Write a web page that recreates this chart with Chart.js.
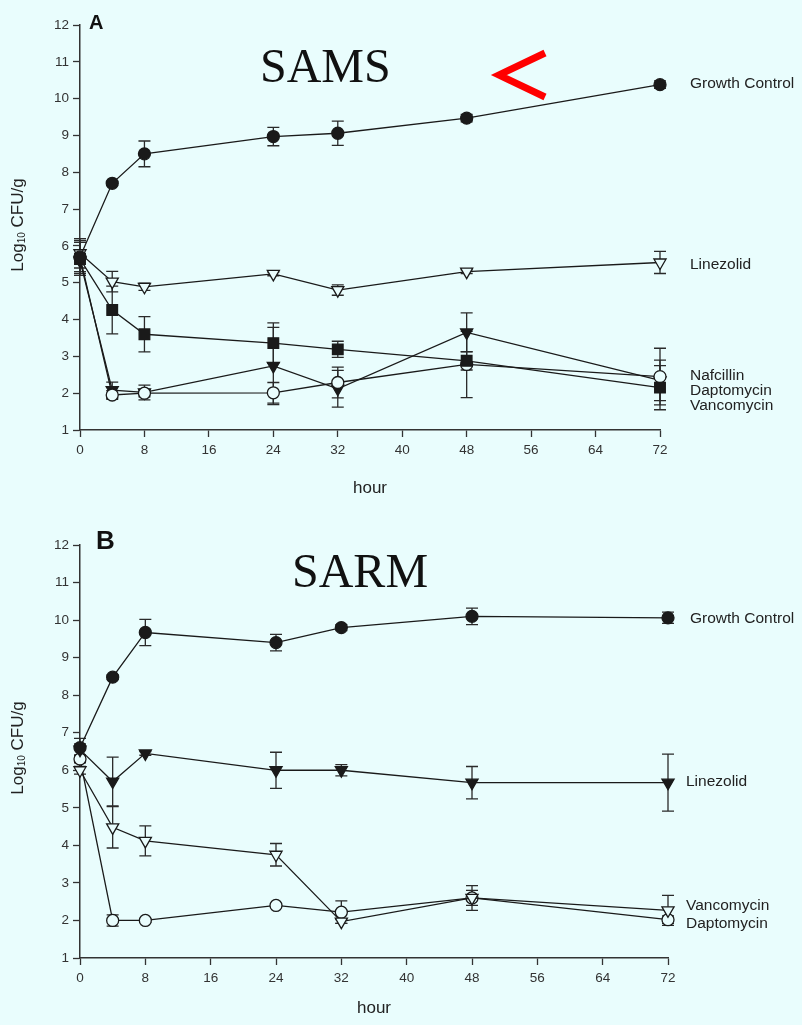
<!DOCTYPE html>
<html>
<head>
<meta charset="utf-8">
<title>SAMS / SARM time-kill</title>
<script src="https://cdn.jsdelivr.net/npm/chart.js"></script>
<style>
    body { margin: 0; background: #e9fdfd; width: 802px; height: 1025px; position: relative; overflow: hidden;
           font-family: "Liberation Sans", Arial, sans-serif; color: #222; }
    canvas { position: absolute; left: 0; }
    #chartA { top: 0; }
    #chartB { top: 515px; }
    .letter { position: absolute; font-weight: bold; line-height: 1; color: #111; }
    .strain { position: absolute; font-family: "Liberation Serif", "Times New Roman", serif; font-size: 48px; line-height: 1; color: #111; }
    .ytitle { position: absolute; font-size: 17px; line-height: 1; white-space: nowrap; color: #222;
              transform: translate(-50%, -50%) rotate(-90deg); }
    .ytitle sub { font-size: 10px; vertical-align: -2px; }
    svg { position: absolute; left: 0; top: 0; }
</style>
</head>
<body>
<canvas id="chartA" width="802" height="505"></canvas>
<canvas id="chartB" width="802" height="510"></canvas>

<div class="letter" style="left:89px; top:12px; font-size:20px;">A</div>
<div class="letter" style="left:96px; top:527px; font-size:26px;">B</div>
<div class="strain" style="left:260px; top:42px;">SAMS</div>
<div class="strain" style="left:292px; top:547px;">SARM</div>
<div class="ytitle" style="left:18px; top:225px;">Log<sub>10</sub> CFU/g</div>
<div class="ytitle" style="left:18px; top:748px;">Log<sub>10</sub> CFU/g</div>
<svg width="802" height="1025">
    <polyline points="545,53 499,75 545,97" fill="none" stroke="#ff0000" stroke-width="7"/>
</svg>

<script>
// sampling times (hours)
const hours = [0, 4, 8, 24, 32, 48, 72];

// Panel A - SAMS
const samsGrowth = [5.7, 7.7, 8.5, 8.97, 9.06, 9.47, 10.38];
const samsGrowthErr = [0.45, 0.05, 0.35, 0.25, 0.33, 0.1, 0.1];
const samsLinezolid = [5.8, 5.03, 4.89, 5.24, 4.8, 5.3, 5.55];
const samsLinezolidErr = [0.4, 0.28, 0.1, 0.05, 0.14, 0.05, 0.3];
const samsNafcillin = [5.65, 4.26, 3.6, 3.36, 3.19, 2.88, 2.15];
const samsNafcillinErr = [0.45, 0.65, 0.48, 0.55, 0.22, 0.25, 0.6];
const samsDaptomycin = [5.7, 1.95, 2.0, 2.01, 2.29, 2.78, 2.45];
const samsDaptomycinErr = [0.2, 0.12, 0.1, 0.28, 0.42, 0.9, 0.77];
const samsVancomycin = [5.6, 2.08, 2.02, 2.74, 2.12, 3.65, 2.35];
const samsVancomycinErr = [0.3, 0.22, 0.2, 1.05, 0.5, 0.53, 0.55];
const samsNames = ['Growth Control', 'Linezolid', 'Nafcillin', 'Daptomycin', 'Vancomycin'];
const samsNameAt = [10.4, 5.5, 2.48, 2.07, 1.66];

// Panel B - SARM
const sarmGrowth = [6.6, 8.48, 9.67, 9.4, 9.8, 10.1, 10.06];
const sarmGrowthErr = [0.25, 0.06, 0.35, 0.22, 0.08, 0.22, 0.15];
const sarmLinezolid = [6.55, 5.7, 6.45, 6.0, 6.0, 5.67, 5.67];
const sarmLinezolidErr = [0.15, 0.65, 0.05, 0.48, 0.15, 0.43, 0.76];
const sarmVancomycin = [6.0, 4.48, 4.12, 3.75, 1.97, 2.6, 2.27];
const sarmVancomycinErr = [0.1, 0.55, 0.4, 0.3, 0.05, 0.33, 0.4];
const sarmDaptomycin = [6.3, 2.0, 2.0, 2.4, 2.22, 2.6, 2.02];
const sarmDaptomycinErr = [0.1, 0.15, 0.05, 0.05, 0.3, 0.2, 0.1];
const sarmNames = ['Growth Control', 'Linezolid', 'Vancomycin', 'Daptomycin'];
const sarmNameAt = [10.03, 5.7, 2.38, 1.92];

const BG = '#e9fdfd';
const INK = '#1a1a1a';
const FONT = '"Liberation Sans", Arial, sans-serif';

function toPoints(values) {
    return hours.map((h, i) => ({ x: h, y: values[i] }));
}

// marker looks
const filledCircle = { pointStyle: 'circle', pointRadius: 6, pointBackgroundColor: INK };
const openCircle = { pointStyle: 'circle', pointRadius: 6, pointBackgroundColor: BG };
const filledSquare = { pointStyle: 'rect', pointRadius: 7.5, pointBackgroundColor: INK };
const openTriDown = { pointStyle: 'triangle', pointRotation: 180, pointRadius: 7, pointBackgroundColor: BG };
const filledTriDown = { pointStyle: 'triangle', pointRotation: 180, pointRadius: 7, pointBackgroundColor: INK };

function series(label, values, errors, marker) {
    return Object.assign({
        label: label,
        data: toPoints(values),
        errors: errors,
        borderColor: INK,
        borderWidth: 1.3,
        pointBorderColor: INK,
        pointBorderWidth: 1.3,
        tension: 0,
        fill: false,
        clip: false
    }, marker);
}

// vertical error bars with caps
const errorBars = {
    id: 'errorBars',
    beforeDatasetsDraw(chart) {
        const ctx = chart.ctx;
        const yScale = chart.scales.y;
        chart.data.datasets.forEach((ds, i) => {
            if (!ds.errors) return;
            const meta = chart.getDatasetMeta(i);
            ctx.save();
            ctx.strokeStyle = '#2a2a2a';
            ctx.lineWidth = 1.3;
            meta.data.forEach((pt, j) => {
                const e = ds.errors[j];
                if (!e) return;
                const v = ds.data[j].y;
                const top = yScale.getPixelForValue(v + e);
                const bot = yScale.getPixelForValue(v - e);
                ctx.beginPath();
                ctx.moveTo(pt.x, top); ctx.lineTo(pt.x, bot);
                ctx.moveTo(pt.x - 6, top); ctx.lineTo(pt.x + 6, top);
                ctx.moveTo(pt.x - 6, bot); ctx.lineTo(pt.x + 6, bot);
                ctx.stroke();
            });
            ctx.restore();
        });
    }
};

// series names to the right of the plot
const sideLabels = {
    id: 'sideLabels',
    afterDraw(chart, args, opts) {
        const ctx = chart.ctx;
        const yScale = chart.scales.y;
        ctx.save();
        ctx.font = '15.5px ' + FONT;
        ctx.fillStyle = '#222';
        ctx.textAlign = 'left';
        ctx.textBaseline = 'middle';
        opts.names.forEach((name, i) => {
            const dx = opts.dx[i] !== undefined ? opts.dx[i] : opts.dx[0];
            ctx.fillText(name, chart.chartArea.right + dx, yScale.getPixelForValue(opts.at[i]));
        });
        ctx.restore();
    }
};

function makeOptions(pad, xHeight, names, at, dx) {
    const tickFont = { family: FONT, size: 13.5 };
    return {
        responsive: false,
        animation: false,
        layout: { padding: pad },
        plugins: {
            legend: { display: false },
            tooltip: { enabled: false },
            sideLabels: { names: names, at: at, dx: dx }
        },
        scales: {
            x: {
                type: 'linear',
                min: 0,
                max: 72,
                ticks: { stepSize: 8, autoSkip: false, maxRotation: 0, color: '#333', font: tickFont, padding: 5 },
                grid: { drawOnChartArea: false, tickLength: 7, tickColor: '#333', tickWidth: 1.3 },
                border: { color: '#333', width: 1.5 },
                title: { display: true, text: 'hour', color: '#222', font: { family: FONT, size: 17 }, padding: { top: 0, bottom: 6 } },
                afterFit: function(scale) { scale.height = xHeight; }
            },
            y: {
                type: 'linear',
                min: 1,
                max: 12,
                ticks: { stepSize: 1, color: '#333', font: tickFont, padding: 4 },
                grid: { drawOnChartArea: false, tickLength: 7, tickColor: '#333', tickWidth: 1.3 },
                border: { color: '#333', width: 1.5 },
                afterFit: function(scale) { scale.width = 80; }
            }
        }
    };
}

new Chart(document.getElementById('chartA').getContext('2d'), {
    type: 'line',
    data: {
        datasets: [
            series('Growth Control', samsGrowth, samsGrowthErr, filledCircle),
            series('Linezolid', samsLinezolid, samsLinezolidErr, openTriDown),
            series('Nafcillin', samsNafcillin, samsNafcillinErr, filledSquare),
            series('Daptomycin', samsDaptomycin, samsDaptomycinErr, openCircle),
            series('Vancomycin', samsVancomycin, samsVancomycinErr, filledTriDown)
        ]
    },
    options: makeOptions({ left: 0, top: 25, right: 142, bottom: 0 }, 75, samsNames, samsNameAt, [30]),
    plugins: [errorBars, sideLabels]
});

new Chart(document.getElementById('chartB').getContext('2d'), {
    type: 'line',
    data: {
        datasets: [
            series('Growth Control', sarmGrowth, sarmGrowthErr, filledCircle),
            series('Linezolid', sarmLinezolid, sarmLinezolidErr, filledTriDown),
            series('Vancomycin', sarmVancomycin, sarmVancomycinErr, openTriDown),
            series('Daptomycin', sarmDaptomycin, sarmDaptomycinErr, openCircle)
        ]
    },
    options: makeOptions({ left: 0, top: 30, right: 134, bottom: 0 }, 67, sarmNames, sarmNameAt, [22, 18, 18, 18]),
    plugins: [errorBars, sideLabels]
});
</script>
</body>
</html>
